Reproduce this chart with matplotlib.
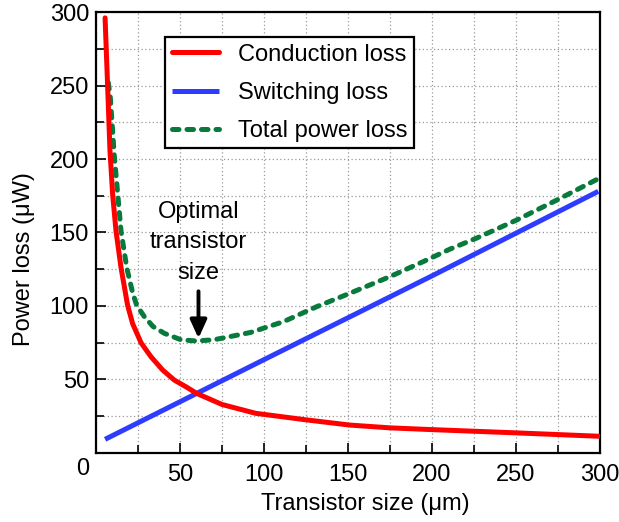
import matplotlib
matplotlib.use("Agg")
import matplotlib.pyplot as plt
from matplotlib.ticker import MultipleLocator
from matplotlib.transforms import ScaledTranslation

plt.rcParams["font.family"] = ["Liberation Sans", "DejaVu Sans"]

# valeurs (taille en um, pertes en uW)
x_conduction = [5.4, 6.9, 8.3, 9.9, 11.9, 14.9, 18.8, 21.8, 26.8, 32.7, 39.7,
                46.6, 53.6, 60, 75, 95, 124, 151, 175, 200, 250, 299]
y_conduction = [296, 250, 206, 176, 151, 126, 100.5, 88, 75, 65.5, 56.4,
                49.6, 45, 40.5, 33, 27, 22.7, 19, 17.1, 15.9, 13.7, 11.4]

x_switching = [5.4, 100, 200, 299]
y_switching = [9.3, 63.5, 120.5, 178]

x_total = [7.3, 8.5, 10.9, 14.9, 18.3, 21.8, 24.2, 28.8, 34, 40.7, 50.6, 59.5,
           70, 79.4, 92, 111.5, 131.3, 151.2, 175, 194.8, 210.7, 226.6, 250.4,
           274.2, 298]
y_total = [252, 242, 202, 151, 126, 109, 100.5, 92.7, 86, 81.4, 77, 76.2,
           77, 79.1, 82, 89.3, 99.5, 108.7, 120, 130.2, 138.7, 146.2, 158.5,
           172, 186]

labels = ["Conduction loss", "Switching loss", "Total power loss"]
x_ticks = [50, 100, 150, 200, 250, 300]
y_ticks = [0, 50, 100, 150, 200, 250, 300]

x_optimal = 61
y_optimal = 78

fig = plt.figure(figsize=(6.19, 5.22), dpi=100)
ax = fig.add_axes([0.1551, 0.1322, 0.8142, 0.8448])

ax.plot(x_conduction, y_conduction, color="#ff0000", linewidth=3.6,
        solid_capstyle="round", solid_joinstyle="round", label=labels[0], zorder=4)
ax.plot(x_switching, y_switching, color="#2e3cff", linewidth=3.6,
        solid_capstyle="butt", label=labels[1], zorder=3)
ax.plot(x_total, y_total, color="#087a3c", linewidth=3.6,
        linestyle=(0, (1.3, 1.6)), dash_capstyle="round",
        label=labels[2], zorder=3)

# fleche et texte de la taille optimale
ax.annotate("", xy=(x_optimal, y_optimal), xytext=(x_optimal, 110),
            arrowprops=dict(arrowstyle="-|>,head_length=1.1,head_width=0.5",
                            color="black", linewidth=2.8, shrinkA=0, shrinkB=0))
ax.text(x_optimal, 115, "Optimal\ntransistor\nsize", ha="center", va="bottom",
        fontsize=17, linespacing=1.5)

ax.set_xlim(0, 300)
ax.set_ylim(0, 300)
ax.set_xticks(x_ticks)
ax.set_yticks(y_ticks)
ax.xaxis.set_minor_locator(MultipleLocator(25))
ax.yaxis.set_minor_locator(MultipleLocator(25))
ax.tick_params(which="both", direction="in", labelsize=17, width=1.2,
               top=False, right=False)
ax.tick_params(which="major", length=7)
ax.tick_params(which="minor", length=6)
ax.tick_params(axis="x", pad=8)
ax.tick_params(axis="y", pad=5)
ax.grid(True, which="both", color="#9a9a9a", linestyle=(0, (1, 2)), linewidth=0.9)
ax.set_axisbelow(True)
for s in ax.spines.values():
    s.set_linewidth(1.6)

# le "0" de l'axe y est un peu plus bas dans l'original
fig.canvas.draw()
lab0 = ax.get_yticklabels()[0]
lab0.set_transform(lab0.get_transform() + ScaledTranslation(0, -10 / 72, fig.dpi_scale_trans))

ax.set_xlabel("Transistor size (μm)", fontsize=17)
ax.set_ylabel("Power loss (μW)", fontsize=17)
ax.xaxis.set_label_coords(0.534, -0.09)
ax.yaxis.set_label_coords(-0.122, 0.44)

leg = ax.legend(loc="upper left", bbox_to_anchor=(0.137, 0.943), borderaxespad=0,
                fontsize=17, frameon=True, fancybox=False, handlelength=2.0,
                handletextpad=0.8, labelspacing=0.68, borderpad=0.28)
leg.get_frame().set_edgecolor("black")
leg.get_frame().set_linewidth(1.6)
leg.get_frame().set_alpha(1)

fig.savefig("out.png", dpi=100)
